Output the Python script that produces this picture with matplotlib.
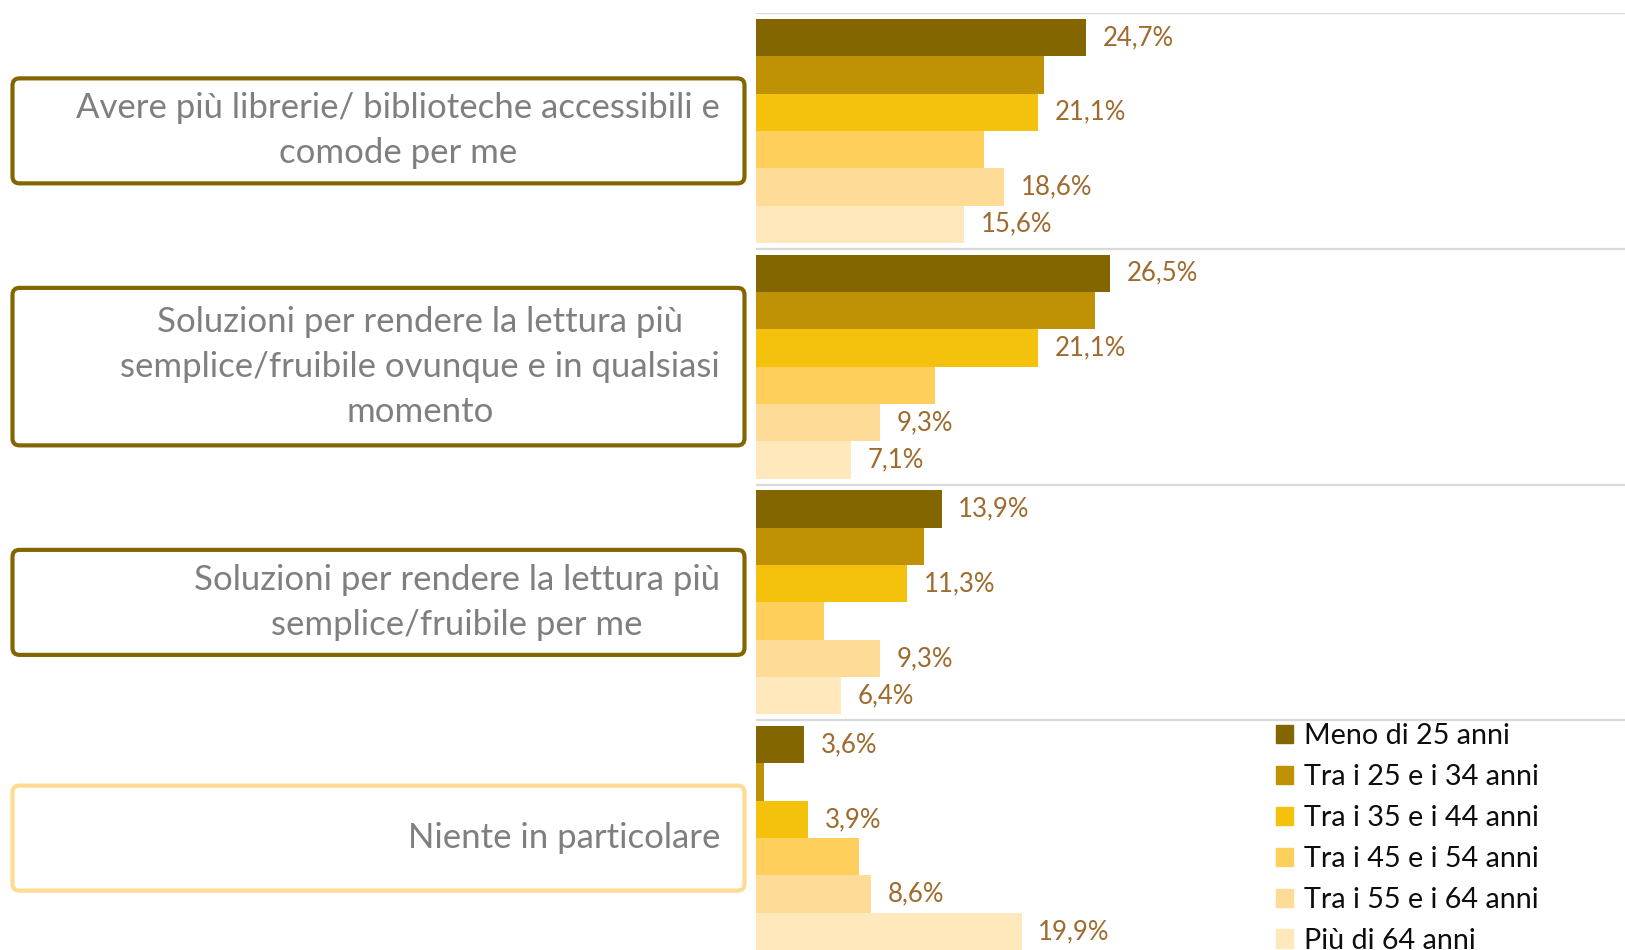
import matplotlib.pyplot as plt
import numpy as np
from matplotlib.patches import FancyBboxPatch, Patch

plt.rcParams["font.family"] = ["Lato", "DejaVu Sans"]

CATEGORIES = [
    "Avere più librerie/ biblioteche accessibili e\ncomode per me",
    "Soluzioni per rendere la lettura più\nsemplice/fruibile ovunque e in qualsiasi\nmomento",
    "Soluzioni per rendere la lettura più\nsemplice/fruibile per me",
    "Niente in particolare",
]
SERIES = [
    "Meno di 25 anni",
    "Tra i 25 e i 34 anni",
    "Tra i 35 e i 44 anni",
    "Tra i 45 e i 54 anni",
    "Tra i 55 e i 64 anni",
    "Più di 64 anni",
]
meno_25 = [24.7, 26.5, 13.9, 3.6]
tra_25_34 = [21.6, 25.4, 12.6, 0.6]
tra_35_44 = [21.1, 21.1, 11.3, 3.9]
tra_45_54 = [17.1, 13.4, 5.1, 7.7]
tra_55_64 = [18.6, 9.3, 9.3, 8.6]
over_64 = [15.6, 7.1, 6.4, 19.9]
# the source chart only labels some of the series
LABELLED = [True, False, True, False, True, True]

COLORS = ["#846600", "#BE9204", "#F4C20C", "#FFCF5C", "#FEDC98", "#FEE8BC"]
BOX_EDGES = ["#846600", "#846600", "#846600", "#FFDA91"]
LABEL_COLOR = "#9E6A2E"

values = [meno_25, tra_25_34, tra_35_44, tra_45_54, tra_55_64, over_64]

W, H = 1625, 950
fig = plt.figure(figsize=(W / 100, H / 100), dpi=100)
ax = fig.add_axes([756 / W, -6 / H, 1 - 756 / W, 943 / H])

y = np.arange(len(CATEGORIES))
h = 0.95 / len(SERIES)
for j, (name, vals) in enumerate(zip(SERIES, values)):
    bars = ax.barh(y + (j - 2.5) * h, vals, height=h, color=COLORS[j], label=name)
    if LABELLED[j]:
        labels = [f"{v:.1f}%".replace(".", ",") for v in vals]
        ax.bar_label(bars, labels=labels, padding=12, fontsize=18.5, color=LABEL_COLOR)

ax.set_xlim(0, 65.1)
ax.set_ylim(len(CATEGORIES) - 0.5, -0.5)
ax.set_yticks(np.arange(-0.5, len(CATEGORIES), 1), minor=True)
ax.set_yticks([])
ax.set_xticks([])
ax.tick_params(which="both", length=0)
ax.grid(which="minor", axis="y", color="#d9d9d9", lw=1.6)
ax.set_axisbelow(True)
for s in ax.spines.values():
    s.set_visible(False)

# overlay in pixel units for the category boxes on the left
ov = fig.add_axes([0, 0, 1, 1])
ov.set_xlim(0, W)
ov.set_ylim(H, 0)
ov.axis("off")
to_px = ov.transData.inverted()
for i, label in enumerate(CATEGORIES):
    py = to_px.transform(ax.transData.transform((0, i)))[1]
    hh = 52.5 * max(label.count("\n") + 1, 2)
    ov.add_patch(FancyBboxPatch((12.5, py - hh / 2), 732, hh,
                                boxstyle="round,pad=0,rounding_size=7",
                                fc="white", ec=BOX_EDGES[i], lw=3))
    ov.text(720, py, label, ha="right", va="center", multialignment="center",
            fontsize=25, color="#7f7f7f", linespacing=1.5)

handles = [Patch(color=c) for c in COLORS]
fig.legend(handles, SERIES, loc="upper left", bbox_to_anchor=(1276 / W, 1 - 723 / H),
           frameon=False, fontsize=20.7, handlelength=0.6, handleheight=0.6,
           handletextpad=0.38, labelspacing=0.52, borderpad=0, borderaxespad=0,
           labelcolor="#0d0d0d")

fig.savefig("out.png", dpi=100)
